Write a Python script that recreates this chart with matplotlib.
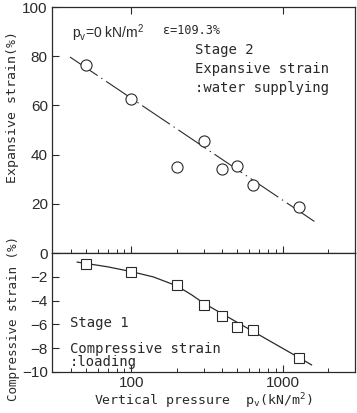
import matplotlib
matplotlib.use('Agg')
import matplotlib.pyplot as plt
from matplotlib.ticker import LogLocator, NullFormatter, FixedLocator, FixedFormatter

# Stage 2 - expansive strain on water supply (circles)
exp_p = [50, 100, 200, 300, 400, 500, 640, 1280]
exp_strain = [76.4, 62.6, 35.0, 45.5, 34.1, 35.4, 27.6, 18.7]
# fitted dash-dot line (end points)
exp_fit_p = [39.4, 1644]
exp_fit_strain = [79.7, 12.6]

# Stage 1 - compressive strain on loading (squares)
comp_p = [50, 100, 200, 300, 400, 500, 640, 1280]
comp_strain = [-0.9, -1.55, -2.7, -4.4, -5.3, -6.2, -6.5, -8.8]
# smooth curve, points
comp_curve_p = [44, 70, 100, 140, 200, 250, 300, 1550]
comp_curve_strain = [-0.75, -1.15, -1.55, -2.0, -2.75, -3.5, -4.2, -9.4]

x_ticks = [100, 1000]
x_ticklabels = ['100', '1000']

ink = '#2a2a2a'
mono = 'DejaVu Sans Mono'
narrow = ['Liberation Sans', 'DejaVu Sans']

fig = plt.figure(figsize=(3.57, 4.13), dpi=100)
ax1 = fig.add_axes([0.1457, 0.387, 0.8487, 0.596])
ax2 = fig.add_axes([0.1457, 0.0993, 0.8487, 0.2877])

for ax in (ax1, ax2):
    ax.set_xscale('log')
    ax.set_xlim(30, 3000)
    for s in ax.spines.values():
        s.set_color(ink)
        s.set_linewidth(0.9)
    ax.xaxis.set_major_locator(FixedLocator(x_ticks))
    ax.xaxis.set_major_formatter(FixedFormatter(x_ticklabels))
    ax.xaxis.set_minor_locator(LogLocator(base=10, subs=range(2, 10)))
    ax.xaxis.set_minor_formatter(NullFormatter())
    ax.tick_params(which='both', direction='in', color=ink, labelcolor=ink,
                   labelsize=11, right=False, pad=3)
    ax.tick_params(which='major', length=5, width=0.8)
    ax.tick_params(which='minor', length=3, width=0.7)

# upper panel
ax1.plot(exp_fit_p, exp_fit_strain, color=ink, lw=0.8,
         linestyle=(0, (30, 4, 1.2, 4)))
ax1.plot(exp_p, exp_strain, 'o', ms=8, mfc='white', mec=ink, mew=0.8)
ax1.set_ylim(0, 100)
ax1.set_yticks([20, 40, 60, 80, 100])
ax1.tick_params(axis='x', top=True, bottom=True, labelbottom=False)
for lab in ax1.get_yticklabels():
    lab.set_family(narrow)

fig.text(72 / 357, 1 - 33 / 413, r'$\mathregular{p_v}$=0 kN/m$\mathregular{^2}$',
         fontsize=10, color=ink, family=narrow, va='center')
ax1.text(0.366, 0.906, '\u03b5=109.3%', transform=ax1.transAxes,
         fontsize=8.5, color=ink, family=mono, va='center')
ax1.text(0.472, 0.75, 'Stage 2\nExpansive strain\n:water supplying',
         transform=ax1.transAxes, fontsize=10, color=ink, family=mono,
         va='center', linespacing=1.45)
ax1.set_ylabel('Expansive strain(%)', fontsize=9.5, color=ink, family=mono)
ax1.yaxis.set_label_coords(-0.11, 0.595)

# lower panel
ax2.plot(comp_curve_p, comp_curve_strain, color=ink, lw=0.9)
ax2.plot(comp_p, comp_strain, 's', ms=7, mfc='white', mec=ink, mew=0.8)
ax2.set_ylim(-10, 0)
ax2.set_yticks([0, -2, -4, -6, -8, -10])
ax2.set_yticklabels(['0', '\u22122', '\u22124', '\u22126', '\u22128', '\u221210'])
ax2.tick_params(axis='x', top=False, bottom=True)
for lab in ax2.get_yticklabels() + ax2.get_xticklabels():
    lab.set_family(narrow)

ax2.text(0.06, 0.41, 'Stage 1', transform=ax2.transAxes, fontsize=10,
         color=ink, family=mono, va='center')
ax2.text(0.06, 0.14, 'Compressive strain\n:loading', transform=ax2.transAxes,
         fontsize=10, color=ink, family=mono, va='center', linespacing=0.95)
ax2.set_ylabel('Compressive strain (%)', fontsize=9, color=ink, family=mono)
ax2.yaxis.set_label_coords(-0.105, 0.45)
ax2.set_xlabel(r'Vertical pressure  $\mathregular{p_v}$(kN/m$\mathregular{^2}$)',
               fontsize=9.5, color=ink, family=mono, labelpad=1)

fig.savefig('out.png', dpi=100, facecolor='white')
